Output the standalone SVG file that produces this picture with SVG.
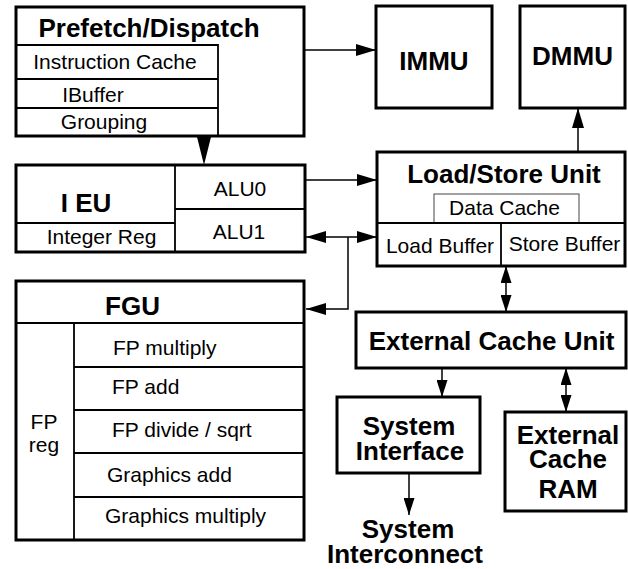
<svg xmlns="http://www.w3.org/2000/svg" width="628" height="569" viewBox="0 0 628 569">
<style>
.box{fill:#fff;stroke:#000;stroke-width:3}
.div{fill:none;stroke:#000;stroke-width:1.8}
.thin{fill:none;stroke:#444;stroke-width:1}
.con{fill:none;stroke:#000;stroke-width:1.5}
text{font-family:"Liberation Sans",Arial,Helvetica,sans-serif;fill:#000}
.b{font-weight:bold;font-size:26px;text-anchor:middle}
.r{font-size:21px;text-anchor:middle}
.l{font-size:21px;text-anchor:start}
</style>
<defs>
<marker id="ah" markerUnits="userSpaceOnUse" markerWidth="20" markerHeight="12" refX="20" refY="6" orient="auto-start-reverse">
<path d="M0,0 L20,6 L0,12 z" fill="#000"/>
</marker>
<marker id="as" markerUnits="userSpaceOnUse" markerWidth="17" markerHeight="11" refX="17" refY="5.5" orient="auto-start-reverse">
<path d="M0,0 L17,5.5 L0,11 z" fill="#000"/>
</marker>
</defs>

<g id="prefetch">
<rect class="box" x="16" y="7" width="288" height="129"/>
<path class="div" d="M16,45 H218 V136 M16,79 H218 M16,108 H218"/>
<text class="b" x="149" y="37">Prefetch/Dispatch</text>
<text class="r" x="115" y="69">Instruction Cache</text>
<text class="r" x="93" y="102">IBuffer</text>
<text class="r" x="104" y="129">Grouping</text>
</g>

<g id="immu">
<rect class="box" x="376" y="6" width="116" height="102"/>
<text class="b" x="434" y="70">IMMU</text>
</g>

<g id="dmmu">
<rect class="box" x="520" y="6" width="105" height="102"/>
<text class="b" x="572.5" y="65">DMMU</text>
</g>

<g id="ieu">
<rect class="box" x="16" y="165" width="289" height="87"/>
<path class="div" d="M175,165 V252 M175,209 H305 M16,223 H175"/>
<text class="b" x="86" y="212">I EU</text>
<text class="r" x="101.5" y="244">Integer Reg</text>
<text class="r" x="240" y="196">ALU0</text>
<text class="r" x="239" y="239">ALU1</text>
</g>

<g id="lsu">
<rect class="box" x="377" y="152" width="248" height="114"/>
<rect class="thin" x="434" y="194" width="145" height="29"/>
<path class="div" d="M377,223 H625 M501,223 V266"/>
<text class="b" x="504" y="183">Load/Store Unit</text>
<text class="r" x="504.5" y="215">Data Cache</text>
<text class="r" x="440" y="253">Load Buffer</text>
<text class="r" x="564.5" y="251">Store Buffer</text>
</g>

<g id="fgu">
<rect class="box" x="16" y="281" width="288" height="259"/>
<path class="div" d="M16,323 H304 M74,323 V540 M74,367 H304 M74,410 H304 M74,453 H304 M74,497 H304"/>
<text class="b" x="132.5" y="315">FGU</text>
<text class="r" x="44" y="429">FP</text>
<text class="r" x="44" y="452">reg</text>
<text class="l" x="113" y="355">FP multiply</text>
<text class="l" x="112" y="394">FP add</text>
<text class="l" x="112" y="437">FP divide / sqrt</text>
<text class="l" x="107" y="482">Graphics add</text>
<text class="l" x="105" y="523">Graphics multiply</text>
</g>

<g id="ecu">
<rect class="box" x="356" y="312" width="270" height="56"/>
<text class="b" x="491.5" y="350">External Cache Unit</text>
</g>

<g id="sysif">
<rect class="box" x="337" y="397" width="143" height="76"/>
<text class="b" x="409" y="435">System</text>
<text class="b" x="410" y="460">Interface</text>
</g>

<g id="ecram">
<rect class="box" x="505" y="412" width="121" height="99"/>
<text class="b" x="568" y="444">External</text>
<text class="b" x="568" y="468">Cache</text>
<text class="b" x="568" y="498">RAM</text>
</g>

<g id="interconnect">
<text class="b" x="408" y="538">System</text>
<text class="b" x="405" y="563">Interconnect</text>
</g>

<g id="connectors">
<path class="con" d="M304,50 H376" marker-end="url(#ah)"/>
<path class="con" d="M578,152 V108" marker-end="url(#ah)"/>
<path class="con" d="M305,180 H377" marker-end="url(#ah)"/>
<path class="con" d="M306,237 H377" marker-start="url(#ah)" marker-end="url(#ah)"/>
<path class="con" d="M348,237 V309 H306" marker-end="url(#ah)"/>
<path class="con" d="M506,266 V312" marker-start="url(#as)" marker-end="url(#as)"/>
<path class="con" d="M442,368 V397" marker-end="url(#as)"/>
<path class="con" d="M566,368 V412" marker-start="url(#as)" marker-end="url(#as)"/>
<path class="con" d="M409,473 V515" marker-end="url(#as)"/>
<polygon points="197,137 211,137 204,165" fill="#000"/>
</g>
</svg>
